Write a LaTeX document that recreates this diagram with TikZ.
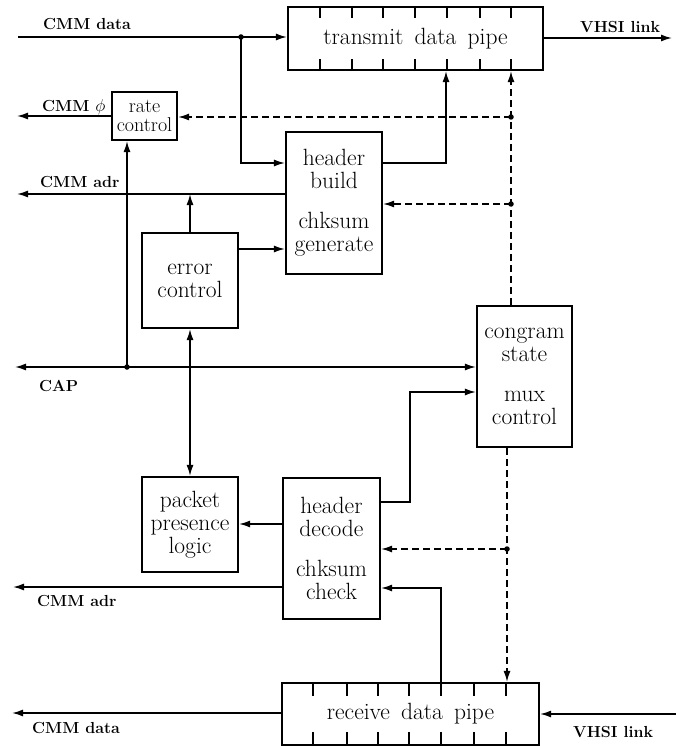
\documentclass[tikz,border=0pt]{standalone}
\usetikzlibrary{arrows.meta}
\begin{document}
\begin{tikzpicture}[x=1pt,y=-1pt,
  conn/.style={line width=1.5pt},
  arr/.style={conn,-{Latex[length=11pt,width=7pt]}},
  darr/.style={conn,{Latex[length=11pt,width=7pt]}-{Latex[length=11pt,width=7pt]}},
  dsh/.style={dash pattern=on 7pt off 4pt},
  blk/.style={draw,line width=2.2pt,inner sep=0pt,align=center,font=\fontsize{23.5}{23}\selectfont},
  lbl/.style={font=\bfseries\fontsize{16}{18}\selectfont,inner sep=0pt,anchor=base west},
  dot/.style={circle,fill,inner sep=0pt,minimum size=5.5pt},
  tick/.style={line width=1.5pt}]
\useasboundingbox (0,0) rectangle (676,746);

% blocks
\node[blk,minimum width=255pt,minimum height=63pt] (tp) at (415.5,38.5) {transmit\hspace{4pt} data\hspace{4pt} pipe};
\node[blk,minimum width=65pt,minimum height=48pt,font=\fontsize{20}{18.5}\selectfont] (rc) at (144.5,116) {rate\\control};
\node[blk,minimum width=96pt,minimum height=142pt] (hb) at (334,203) {header\\build\\[17pt]chksum\\generate};
\node[blk,minimum width=96pt,minimum height=95pt] (ec) at (190,280.5) {error\\control};
\node[blk,minimum width=95pt,minimum height=141pt] (cg) at (524.5,376.5) {congram\\state\\[17pt]mux\\control};
\node[blk,minimum width=96pt,minimum height=95pt] (pk) at (190,524.5) {packet\\presence\\logic};
\node[blk,minimum width=97pt,minimum height=141pt] (hd) at (331.5,548.5) {header\\decode\\[17pt]chksum\\check};
\node[blk,minimum width=257pt,minimum height=62pt] (rp) at (410.5,714) {receive\hspace{4pt} data\hspace{4pt} pipe};

% pipe ticks
\foreach \x in {320,352,383,415,447,480,511} {
  \draw[tick] (tp.north -| \x,0) -- ++(0,12);
  \draw[tick] (tp.south -| \x,0) -- ++(0,-12);
}
\foreach \x in {313,347,378,409,441,474,506} {
  \draw[tick] (rp.north -| \x,0) -- ++(0,14);
  \draw[tick] (rp.south -| \x,0) -- ++(0,-14);
}

% junctions
\node[dot] (j1) at (241,37) {};
\node[dot] (j2) at (511,117) {};
\node[dot] (j3) at (511,204) {};
\node[dot] (j4) at (127,367) {};
\node[dot] (j5) at (507,549) {};

% free ends
\coordinate (cin) at (18,37);
\coordinate (vout) at (672,38);
\coordinate (phiout) at (17,116);
\coordinate (adr1) at (17,194);
\coordinate (capout) at (15,367);
\coordinate (adr2) at (13,587);
\coordinate (dout) at (12,713);
\coordinate (vin) at (676,714);

% transmit side
\draw[arr] (cin) -- (tp.west |- cin);
\draw[arr] (j1.center) |- (hb.west |- 0,163);
\draw[arr] (tp.east |- vout) -- (vout);
\draw[arr] (rc.west) -- (phiout);
\draw[arr,dsh] (cg.north -| j2) -- (tp.south -| j2);
\draw[arr,dsh] (j2.center) -- (rc.east |- j2);
\draw[arr,dsh] (j3.center) -- (hb.east |- j3);
\draw[arr] (hb.east |- 0,163) -| (tp.south -| 446,0);
\draw[arr] (hb.west |- adr1) -- (adr1);
\draw[arr] (j4.center) -- (rc.south -| j4);
\draw[arr] (ec.north) -- (ec.north |- adr1);
\draw[arr] (ec.east |- 0,249) -- (hb.west |- 0,249);

% CAP and middle
\draw[darr] (cg.west |- capout) -- (capout);
\draw[darr] (ec.south) -- (pk.north);

% receive side
\draw[arr] (hd.east |- 0,502) -| (410,392) -- (cg.west |- 0,392);
\draw[arr,dsh] (cg.south -| j5) -- (rp.north -| j5);
\draw[arr,dsh] (j5.center) -- (hd.east |- j5);
\draw[arr] (hd.west |- 0,524) -- (pk.east |- 0,524);
\draw[arr] (hd.west |- adr2) -- (adr2);
\draw[arr] (rp.north -| 441,0) |- (hd.east |- 0,588);
\draw[arr] (rp.west |- dout) -- (dout);
\draw[arr] (vin) -- (rp.east |- vin);

% labels
\node[lbl] (l1) at (43,30) {CMM data};
\node[lbl] (l2) at (580,33) {VHSI link};
\node[lbl] (l3) at (42,112) {CMM $\phi$};
\node[lbl] (l4) at (40,187) {CMM adr};
\node[lbl] (l5) at (39,391) {CAP};
\node[lbl] (l6) at (37,606) {CMM adr};
\node[lbl] (l7) at (32,733) {CMM data};
\node[lbl] (l8) at (573,737) {VHSI link};
\end{tikzpicture}
\end{document}
